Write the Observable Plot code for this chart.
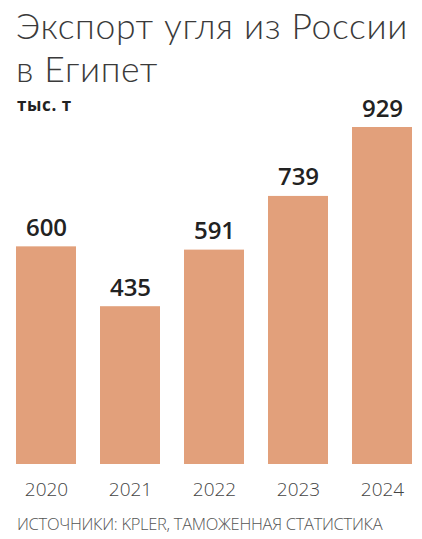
<!DOCTYPE html>
<html>
<head>
<meta charset="utf-8">
<script src="https://cdn.jsdelivr.net/npm/d3@7"></script>
<script src="https://cdn.jsdelivr.net/npm/@observablehq/plot@0.6"></script>
<style>
  html, body { margin: 0; padding: 0; background: #fff; }
  body { width: 422px; height: 539px; overflow: hidden; font-family: "Open Sans", sans-serif; }
  .tline { position: absolute; left: 16px; font-family: Lato, "Open Sans", sans-serif; font-weight: 300; font-size: 35.5px; line-height: 42px; height: 42px; color: #3a3a3a; letter-spacing: 0.65px; white-space: nowrap; }
  #t1 { top: 5px; }
  #t2 { top: 48px; }
  #unit { position: absolute; left: 17px; top: 94px; font-weight: 700; font-size: 17px; line-height: 22px; color: #222; letter-spacing: 0.6px; }
  #chart { position: absolute; left: 0; top: 116px; }
  #source { position: absolute; left: 17px; top: 512px; font-weight: 300; font-size: 16.5px; color: #555; letter-spacing: -0.3px; white-space: nowrap; }
</style>
</head>
<body>
<div class="tline" id="t1">Экспорт угля из России</div>
<div class="tline" id="t2">в Египет</div>
<div id="unit">тыс. т</div>
<div id="chart"></div>
<div id="source">ИСТОЧНИКИ: KPLER, ТАМОЖЕННАЯ СТАТИСТИКА</div>
<script>
const years = ["2020", "2021", "2022", "2023", "2024"];
const values = [600, 435, 591, 739, 929];

const data = years.map((y, i) => ({year: y, value: values[i]}));

const chart = Plot.plot({
  width: 422,
  height: 389,
  marginTop: 11,
  marginBottom: 41,
  marginLeft: 16,
  marginRight: 9,
  style: {background: "transparent", overflow: "visible"},
  x: {domain: years, paddingInner: 0.2857, paddingOuter: 0, label: null},
  y: {domain: [0, 929], axis: null},
  marks: [
    Plot.barY(data, {x: "year", y: "value", fill: "#E2A07B"}),
    Plot.text(data, {x: "year", y: "value", text: d => String(d.value), dy: -11, fontSize: 24, fontWeight: 600, fill: "#222", fontFamily: "Open Sans", lineAnchor: "bottom"}),
    Plot.axisX({tickSize: 0, tickPadding: 18, fontSize: 19, fontWeight: 300, fontFamily: "Open Sans", color: "#444", label: null})
  ]
});
document.getElementById("chart").appendChild(chart);
</script>
</body>
</html>
